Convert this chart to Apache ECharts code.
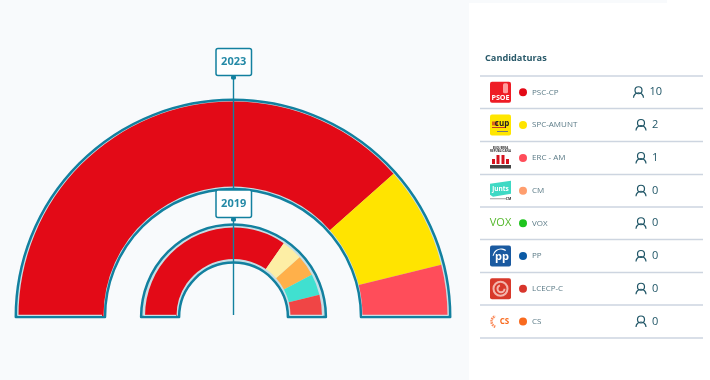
<!DOCTYPE html>
<html>
<head>
<meta charset="utf-8">
<style>
  html, body { margin: 0; padding: 0; background: #fff; }
  #chart { width: 710px; height: 380px; }
</style>
<script src="https://cdn.jsdelivr.net/npm/echarts@6/dist/echarts.min.js"></script>
</head>
<body>
<div id="chart"></div>
<script>
const parties = ["PSC-CP", "SPC-AMUNT", "ERC - AM", "CM", "VOX", "PP", "LCECP-C", "CS"]
const seats2023 = [10, 2, 1, 0, 0, 0, 0, 0]
const colors2023 = ["#e30a17", "#ffe400", "#ff4d5a", "#ff9e6e", "#1ec41e", "#0b5aa5", "#d8362c", "#f96a1e"]
const seats2019 = [9, 1, 1, 1, 1]
const colors2019 = ["#e30a17", "#fdeea5", "#ffb04a", "#40e0d0", "#f04545"]
const years = ["2023", "2019"]

const teal = "#12809f"
const ink = "#1f5566"
const halo = "#c6dfe6"
const font = "'Open Sans', sans-serif"
const rowTop = [76, 108.5, 141.5, 174.5, 207, 239.5, 272.5, 305, 338]

const chart = echarts.init(document.getElementById("chart"))

// half ring with the teal outline, then the seats on top of it
function ring(cx, outline, fill, seats, colors) {
  return [
    {
      type: "pie",
      silent: true,
      startAngle: 180,
      endAngle: 360,
      center: [cx, 317],
      radius: outline,
      label: { show: false },
      labelLine: { show: false },
      itemStyle: { color: halo, borderColor: teal, borderWidth: 2.5 },
      data: [1],
    },
    {
      type: "pie",
      silent: true,
      startAngle: 180,
      endAngle: 360,
      center: [cx, 316],
      radius: fill,
      label: { show: false },
      labelLine: { show: false },
      data: seats.map((v, i) => ({ value: v, itemStyle: { color: colors[i] } })),
    },
  ]
}

// pale strip under the seats, above the teal base of the ring
function baseStrip(x1, x2) {
  return { type: "rect", z: 50, shape: { x: x1, y: 314.8, width: x2 - x1, height: 1.2 }, style: { fill: halo } }
}

function yearBox(year, y, h) {
  return [
    { type: "rect", z: 101, shape: { x: 216, y: y, width: 35.5, height: h, r: 2 }, style: { fill: "#fff", stroke: teal, lineWidth: 1.5 } },
    { type: "text", z: 102, x: 233.7, y: y + h / 2, style: { text: year, fill: "#2489a6", font: "bold 11px " + font, align: "center", verticalAlign: "middle" } },
    { type: "rect", z: 101, shape: { x: 231, y: y + h, width: 5, height: 4, r: 1.5 }, style: { fill: teal } },
  ]
}

function personIcon(cx, cy) {
  return [
    { type: "circle", z: 100, shape: { cx: cx, cy: cy - 2, r: 3.5 }, style: { fill: "none", stroke: ink, lineWidth: 1.2 } },
    { type: "arc", z: 100, shape: { cx: cx, cy: cy + 5.5, r: 5, startAngle: Math.PI, endAngle: Math.PI * 2 }, style: { fill: "none", stroke: ink, lineWidth: 1.2 } },
  ]
}

function small(text, x, y, fill, size, weight) {
  return { type: "text", z: 101, x: x, y: y, style: { text: text, fill: fill, font: (weight || "bold") + " " + size + "px " + font, align: "center", verticalAlign: "middle" } }
}

// rough versions of the party logos, 21px wide
function logo(i, cy) {
  const x = 490
  const box = (fill) => ({ type: "rect", z: 100, shape: { x: x, y: cy - 10.5, width: 21, height: 21, r: 2 }, style: { fill: fill } })
  switch (i) {
    case 0:
      return [
        box("#ee1c25"),
        { type: "rect", z: 101, shape: { x: x + 13, y: cy - 9, width: 5, height: 10, r: 1.5 }, style: { fill: "#ff9c9c" } },
        small("PSOE", x + 10.5, cy + 5.5, "#fff", 7.2),
      ]
    case 1:
      return [
        box("#ffe600"),
        { type: "rect", z: 101, shape: { x: x + 2, y: cy - 3.5, width: 6, height: 4 }, style: { fill: "#d8641a" } },
        small("cup", x + 12, cy - 1.5, "#222", 8),
        { type: "rect", z: 101, shape: { x: x + 2, y: cy + 2, width: 13, height: 1 }, style: { fill: "#c0392b" } },
        { type: "rect", z: 101, shape: { x: x + 7, y: cy + 6, width: 11, height: 1 }, style: { fill: "#777" } },
      ]
    case 2:
      return [
        small("ESQUERRA", x + 10.5, cy - 9.5, "#333", 3),
        small("REPUBLICANA", x + 10.5, cy - 6.5, "#333", 3),
        { type: "rect", z: 100, shape: { x: x + 2, y: cy + 1, width: 3, height: 5 }, style: { fill: "#d5121e" } },
        { type: "rect", z: 100, shape: { x: x + 6.5, y: cy - 3, width: 3, height: 9 }, style: { fill: "#d5121e" } },
        { type: "rect", z: 100, shape: { x: x + 11.5, y: cy - 3, width: 3, height: 9 }, style: { fill: "#d5121e" } },
        { type: "rect", z: 100, shape: { x: x + 16, y: cy + 1, width: 3, height: 5 }, style: { fill: "#d5121e" } },
        { type: "rect", z: 100, shape: { x: x, y: cy + 7, width: 21, height: 3.5 }, style: { fill: "#444" } },
      ]
    case 3:
      return [
        { type: "polygon", z: 100, shape: { points: [[x, cy - 7], [x + 21, cy - 10], [x + 21, cy + 3], [x + 3, cy + 6], [x, cy + 4]] }, style: { fill: "#3fd9c4" } },
        small("junts", x + 10.5, cy - 2, "#fff", 6.5),
        { type: "line", z: 100, shape: { x1: x, y1: cy + 8, x2: x + 16, y2: cy + 8 }, style: { stroke: "#777", lineWidth: 0.7 } },
        small("CM", x + 18.5, cy + 8.5, "#333", 3.5),
      ]
    case 4:
      return [small("VOX", x + 10.5, cy, "#56b82e", 11, "normal")]
    case 5:
      return [
        box("#1a5aa0"),
        { type: "arc", z: 101, shape: { cx: x + 11, cy: cy + 1, r: 8, startAngle: Math.PI * 1.05, endAngle: Math.PI * 1.7 }, style: { fill: "none", stroke: "#fff", lineWidth: 1.2 } },
        small("pp", x + 12, cy + 1, "#fff", 11),
      ]
    case 6:
      return [
        box("#d8392b"),
        { type: "circle", z: 101, shape: { cx: x + 10.5, cy: cy, r: 7 }, style: { fill: "none", stroke: "#f3b5ac", lineWidth: 2 } },
        { type: "arc", z: 101, shape: { cx: x + 11, cy: cy, r: 3.5, startAngle: 0, endAngle: Math.PI * 1.4 }, style: { fill: "none", stroke: "#f3b5ac", lineWidth: 2 } },
      ]
    default:
      return [
        { type: "arc", z: 100, shape: { cx: x + 7, cy: cy, r: 5.5, startAngle: Math.PI * 0.6, endAngle: Math.PI * 1.4 }, style: { fill: "none", stroke: "#fa8a5a", lineWidth: 2.5, lineDash: [1.5, 0.7] } },
        small("CS", x + 14.5, cy, "#f96a1e", 8),
      ]
  }
}

const graphics = [
  { type: "rect", z: -10, shape: { x: 0, y: 0, width: 469, height: 380 }, style: { fill: "#f8fafc" } },
  { type: "rect", z: -10, shape: { x: 469, y: 0, width: 198, height: 3 }, style: { fill: "#f8fafc" } },
  baseStrip(18, 102), baseStrip(362, 448), baseStrip(144, 176), baseStrip(290, 323),
]

const series = [
  ...ring(233, [128, 217.2], [129.5, 214.5], seats2023, colors2023),
  ...ring(233.5, [54.4, 92.4], [57, 88.5], seats2019, colors2019),
]

// pointers from the year boxes down through the rings
graphics.push({ type: "line", z: 100, shape: { x1: 233.5, y1: 76, x2: 233.5, y2: 190 }, style: { stroke: teal, lineWidth: 1.4 } })
graphics.push({ type: "line", z: 100, shape: { x1: 233.5, y1: 218, x2: 233.5, y2: 315 }, style: { stroke: teal, lineWidth: 1.4 } })
graphics.push(...yearBox(years[0], 48.5, 27), ...yearBox(years[1], 190, 27.5))

graphics.push({ type: "text", z: 100, x: 485, y: 58, style: { text: "Candidaturas", fill: "#2a5a6a", font: "bold 9.2px " + font, verticalAlign: "middle" } })
rowTop.forEach((y) => {
  graphics.push({ type: "line", z: 100, shape: { x1: 480, y1: y, x2: 703, y2: y }, style: { stroke: "#cdd5e0", lineWidth: 1.3 } })
})
parties.forEach((name, i) => {
  const cy = (rowTop[i] + rowTop[i + 1]) / 2
  const label = String(seats2023[i])
  const iconX = label.length > 1 ? 638.5 : 641
  graphics.push(...logo(i, cy))
  graphics.push({ type: "circle", z: 100, shape: { cx: 523, cy: cy, r: 4 }, style: { fill: colors2023[i] } })
  graphics.push({ type: "text", z: 100, x: 532, y: cy, style: { text: name, fill: "#5a7a86", font: "8px " + font, verticalAlign: "middle" } })
  graphics.push(...personIcon(iconX, cy))
  graphics.push({ type: "text", z: 100, x: iconX + 11, y: cy, style: { text: label, fill: ink, font: "11px " + font, verticalAlign: "middle" } })
})

chart.setOption({
  animation: false,
  backgroundColor: "#fff",
  series: series,
  graphic: { elements: graphics },
})
</script>
</body>
</html>
